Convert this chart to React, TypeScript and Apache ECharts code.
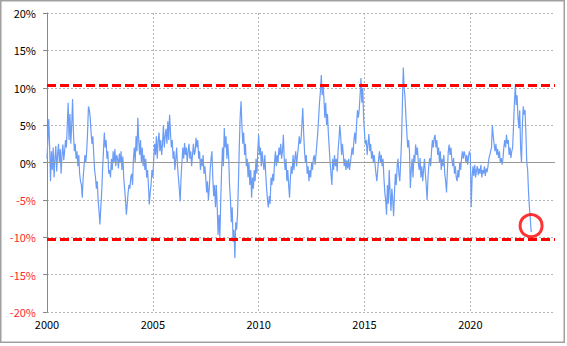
import React, { useEffect, useRef } from "react";
import * as echarts from "echarts";

// Semi-monthly values (%) per year
const v2000 = [0.5, 3.0, 5.8, 2.0, -2.5, 1.5, -1.0, 2.0, -2.0, 0.5, 2.2, -1.2, 1.0, 2.5, 0.0, 1.8, -1.5, 1.0, 2.4, 0.3, 1.5, 3.0, 2.0, 5.0];
const v2001 = [8.0, 3.0, 6.5, 2.5, 5.0, 8.5, 4.0, 1.5, 2.5, 0.5, 1.5, -0.5, 1.0, -1.5, -2.5, -3.0, -4.7, -2.0, -0.5, 1.0, 0.0, 1.5, 4.0, 7.5];
const v2002 = [7.0, 6.0, 4.0, 2.5, 3.5, 1.0, -1.0, -2.0, -3.5, -2.5, -5.0, -6.5, -8.3, -6.0, -4.0, -1.0, 1.5, 4.0, 2.0, 3.0, 0.5, 1.5, -1.5, -1.0];
const v2003 = [-2.0, 0.5, -1.0, 1.5, 0.0, 1.8, -0.5, 1.0, 0.5, -0.8, 1.2, 0.0, 1.5, -1.0, 0.8, -2.0, -3.5, -5.0, -7.0, -5.5, -4.0, -3.0, -3.5, -2.0];
const v2004 = [-1.5, -3.0, 0.5, 2.0, 0.0, 3.5, 1.5, 6.0, 3.0, 1.0, 3.0, 0.0, 2.0, -0.5, 1.0, -1.0, 0.5, -2.0, -1.0, -3.0, -5.6, -4.0, -3.0, -1.0];
const v2005 = [-2.0, 0.5, 2.5, 1.0, 3.5, 0.5, 2.8, 4.0, 1.5, 3.0, 1.0, 2.5, 5.0, 2.0, 3.5, 4.5, 2.5, 5.5, 3.0, 6.4, 4.0, 2.0, 3.0, 0.5];
const v2006 = [1.5, -1.0, 0.5, 2.0, -0.5, -2.0, -3.5, -5.2, -2.0, 0.0, 2.0, 0.5, 2.6, 1.0, 2.0, 0.0, 1.5, 2.5, 0.5, 1.5, -0.5, 1.0, 2.5, 1.0];
const v2007 = [1.5, 3.3, 2.0, 3.0, 0.5, 1.5, -1.0, 0.5, -0.5, 1.0, -1.5, -0.5, -2.0, -4.0, -2.5, -5.0, -3.5, -1.0, 0.5, 1.5, -2.0, -4.5, -3.0, -6.0];
const v2008 = [-3.0, -6.0, -9.7, -7.0, -10.0, -5.0, -1.0, 2.0, -0.5, 4.6, 2.0, 3.5, 0.5, 2.5, 0.6, -3.0, -5.0, -8.0, -6.0, -10.6, -9.0, -12.8, -8.0, -9.0];
const v2009 = [-7.0, -3.0, 2.0, 6.0, 8.2, 5.0, 2.5, 4.0, 1.0, 2.5, -0.5, 0.5, -2.0, 0.0, -3.0, -1.0, -4.7, -2.0, -3.5, -1.0, -2.5, 0.5, -1.5, 1.5];
const v2010 = [3.7, 1.0, 2.0, -0.5, 1.5, 0.0, -1.0, 1.0, -1.5, -3.5, -5.0, -6.0, -4.5, -5.5, -2.0, -3.0, -1.5, -2.5, 0.0, 1.5, -0.5, 1.0, 0.0, 2.0];
const v2011 = [1.0, 2.5, 0.5, 1.5, 3.7, 0.5, -1.0, 0.5, -2.5, -1.0, -3.0, -4.7, -2.0, -0.5, -1.5, 1.0, -1.0, 0.5, 1.5, -0.5, 1.0, 2.0, 3.5, 2.5];
const v2012 = [3.0, 5.0, 7.3, 4.0, 1.5, 0.0, 1.0, -1.5, -0.5, -2.5, -1.0, -2.0, 0.0, -1.0, 0.5, 1.0, -0.3, 1.0, 2.5, 4.0, 6.0, 8.0, 9.5, 11.7];
const v2013 = [9.0, 10.5, 8.6, 6.0, 8.0, 5.0, 6.5, 4.0, 2.0, 0.0, -1.5, -3.0, 0.5, -1.0, 1.0, -0.5, 0.5, -1.2, 1.5, 3.0, 5.0, 3.5, 1.0, 2.5];
const v2014 = [1.0, -0.5, 0.5, -1.0, 0.3, -0.8, 0.5, -1.0, 0.0, 1.0, 2.0, 1.0, 3.0, 4.0, 2.5, 5.0, 7.0, 6.0, 7.0, 9.0, 11.3, 8.0, 10.0, 6.0];
const v2015 = [4.0, 2.4, 3.0, 1.0, 2.5, 3.8, 1.5, 2.5, 0.5, 1.5, 0.0, 1.0, -0.3, -1.5, -2.5, -1.0, 0.5, 1.5, 0.0, 1.0, -0.5, 0.5, -2.0, -4.0];
const v2016 = [-5.0, -7.0, -3.0, -5.5, -1.0, -4.0, -6.5, -3.5, -5.0, -7.2, -4.0, -1.5, -3.0, -0.5, 0.5, -1.5, -2.5, 0.0, 3.0, 8.0, 12.7, 10.0, 8.6, 6.0];
const v2017 = [4.0, 2.0, 3.0, 1.5, -3.4, -1.0, 0.5, -2.0, 1.0, 0.0, 2.4, 1.0, 2.0, 0.0, -1.0, 0.6, -2.0, -0.5, -2.5, -1.0, 0.5, -1.5, -3.0, -5.0];
const v2018 = [-2.0, -0.3, 0.6, -0.5, 1.5, 3.0, 2.0, 3.3, 3.7, 2.0, 3.0, 1.0, 2.0, 0.0, 1.5, -1.0, 0.5, -0.5, 1.0, -1.5, -2.5, -4.0, -1.0, 1.5];
const v2019 = [2.4, 1.0, 2.0, 0.5, -0.5, 0.6, -1.5, -0.5, -2.0, -2.5, -1.0, -2.0, 0.0, -1.0, 0.5, 1.5, 0.5, 1.5, 1.0, 0.0, 1.0, -0.3, 0.8, 1.5];
const v2020 = [1.0, -6.0, -2.0, -0.5, -1.8, -0.3, -2.0, -1.0, -0.5, -1.7, -0.8, -1.5, -0.3, -2.0, -1.0, -1.5, -0.5, -1.8, -0.8, -1.3, -0.5, 0.5, 1.0, 1.5];
const v2021 = [2.0, 5.0, 3.5, 2.4, 1.5, 2.5, 1.0, 1.8, 0.6, 1.5, 0.0, 0.6, -0.3, 0.5, 2.0, 3.0, 2.0, 3.7, 2.5, 3.0, 1.0, 2.0, 0.6, 1.5];
const v2022 = [2.0, 5.0, 8.0, 10.4, 7.7, 9.0, 6.0, 4.6, 7.0, 2.0, 0.0, 5.0, 7.5, 6.4, 7.0, 4.0, 0.0, -1.0, -4.0, -6.0, -7.5, -9.3];

const years = [2000, 2001, 2002, 2003, 2004, 2005, 2006, 2007, 2008, 2009, 2010, 2011, 2012, 2013, 2014, 2015, 2016, 2017, 2018, 2019, 2020, 2021, 2022];
const yearValues = [v2000, v2001, v2002, v2003, v2004, v2005, v2006, v2007, v2008, v2009, v2010, v2011, v2012, v2013, v2014, v2015, v2016, v2017, v2018, v2019, v2020, v2021, v2022];

const upperBand = 10.3;
const lowerBand = -10.3;
const markedPoint = [2022.87, -8.45];

export default function App() {
  const ref = useRef<HTMLDivElement>(null);
  useEffect(() => {
    document.body.style.margin = "0";
    if (!ref.current) return;
    const chart = echarts.init(ref.current, null, { renderer: "svg" });
    const data: number[][] = [];
    years.forEach((y, k) => {
      const arr = yearValues[k];
      arr.forEach((v, i) => data.push([y + i / 24, v]));
    });
    const font = "'Noto Sans CJK JP', 'DejaVu Sans', sans-serif";
    chart.setOption({
      animation: false,
      backgroundColor: "#ffffff",
      grid: { left: 47, right: 12, top: 13, bottom: 34 },
      xAxis: {
        type: "value",
        min: 2000,
        max: 2024,
        interval: 5,
        axisLine: { show: false },
        axisTick: { show: false },
        axisLabel: {
          margin: 6,
          color: "#000",
          fontSize: 11,
          fontFamily: font,
          showMaxLabel: false,
          formatter: (v: number) => (v % 5 === 0 ? String(v) : ""),
        },
        splitLine: {
          show: true,
          showMinLine: false,
          showMaxLine: false,
          lineStyle: { color: "#b4b4b4", type: [2, 2], width: 1 },
        },
      },
      yAxis: {
        type: "value",
        min: -20,
        max: 20,
        interval: 5,
        axisLine: { show: true, lineStyle: { color: "#888", width: 1 } },
        axisTick: { show: true, length: 4, lineStyle: { color: "#888" } },
        axisLabel: {
          margin: 11,
          fontSize: 11,
          fontFamily: font,
          formatter: (v: number) => (v < 0 ? `{neg|${v}%}` : `{pos|${v}%}`),
          rich: {
            pos: { color: "#000", fontSize: 11, fontFamily: font },
            neg: { color: "#ff2a2a", fontSize: 11, fontFamily: font },
          },
        },
        splitLine: {
          show: true,
          lineStyle: { color: "#b4b4b4", type: [2, 2], width: 1 },
        },
      },
      series: [
        {
          type: "line",
          data: [],
          silent: true,
          z: 1,
          markLine: {
            silent: true,
            symbol: "none",
            label: { show: false },
            lineStyle: { color: "#999", type: "solid", width: 1 },
            data: [{ yAxis: 0 }],
          },
        },
        {
          type: "line",
          data,
          showSymbol: false,
          z: 2,
          lineStyle: { color: "#6b9cf6", width: 1.2 },
          itemStyle: { color: "#6b9cf6" },
        },
        {
          type: "line",
          data: [],
          z: 5,
          markLine: {
            silent: true,
            symbol: "none",
            label: { show: false },
            lineStyle: { color: "#ff0000", type: [9, 4], width: 3 },
            data: [{ yAxis: upperBand }, { yAxis: lowerBand }],
          },
        },
        {
          type: "scatter",
          z: 6,
          data: [markedPoint],
          symbol: "circle",
          symbolSize: 22,
          itemStyle: { color: "rgba(0,0,0,0)", borderColor: "#ff0000", borderWidth: 3 },
        },
      ],
      graphic: [
        {
          type: "rect",
          shape: { x: 0.75, y: 0.75, width: 563.5, height: 341.5 },
          style: { fill: "none", stroke: "#a0a0a0", lineWidth: 1.5 },
          silent: true,
        },
      ],
    });
    return () => chart.dispose();
  }, []);
  return <div ref={ref} style={{ width: 567, height: 346 }} />;
}
